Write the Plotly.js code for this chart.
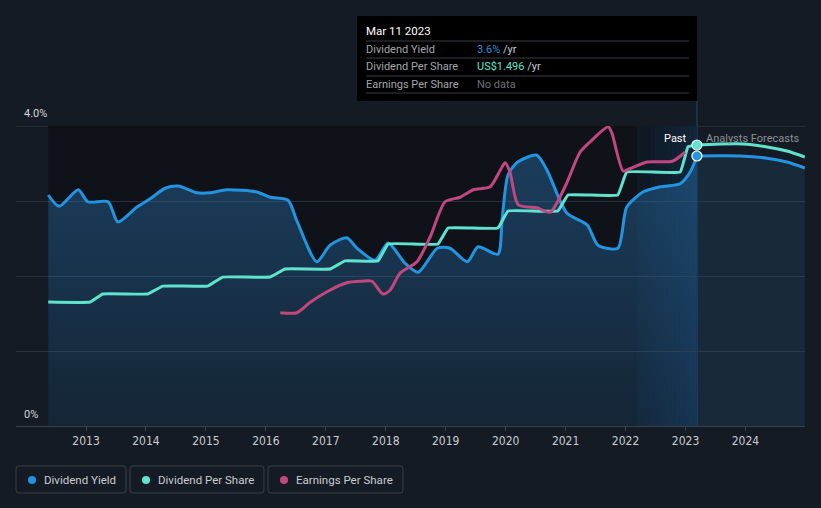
<!DOCTYPE html>
<html><head><meta charset="utf-8">
<script src="https://cdn.plot.ly/plotly-3.0.1.min.js"></script>
<style>html,body{margin:0;padding:0;background:#151b24;}#chart{width:821px;height:508px;}</style>
</head><body><div id="chart"></div>
<script>
// ---- data (decimal years) ----
const tickYears = [2013, 2014, 2015, 2016, 2017, 2018, 2019, 2020, 2021, 2022, 2023, 2024];

const yieldX = [2012.37, 2012.55, 2012.87, 2013.03, 2013.37, 2013.53, 2013.85, 2014.07, 2014.32, 2014.54, 2014.85, 2015.07, 2015.35, 2015.85, 2016.07, 2016.37, 2016.52, 2016.85, 2017.07, 2017.35, 2017.52, 2017.82, 2018.04, 2018.32, 2018.54, 2018.86, 2019.07, 2019.36, 2019.54, 2019.87, 2019.94, 2020.04, 2020.20, 2020.52, 2020.69, 2021.02, 2021.36, 2021.54, 2021.87, 2022.02, 2022.29, 2022.58, 2022.91, 2023.08, 2023.19];
const yieldPct = [3.08, 2.93, 3.15, 2.99, 2.99, 2.72, 2.92, 3.03, 3.17, 3.20, 3.11, 3.11, 3.15, 3.12, 3.05, 3.01, 2.73, 2.19, 2.41, 2.51, 2.37, 2.21, 2.44, 2.17, 2.05, 2.37, 2.37, 2.19, 2.39, 2.29, 2.75, 3.35, 3.52, 3.61, 3.41, 2.84, 2.68, 2.41, 2.37, 2.92, 3.12, 3.19, 3.23, 3.39, 3.60];
const yieldFcX = [2023.19, 2023.91, 2024.36, 2024.69, 2024.99];
const yieldFc = [3.60, 3.60, 3.57, 3.52, 3.44];

const dpsX = [2012.37, 2013.07, 2013.28, 2014.03, 2014.28, 2015.03, 2015.28, 2016.07, 2016.32, 2017.07, 2017.32, 2017.87, 2018.04, 2018.87, 2019.04, 2019.87, 2020.04, 2020.87, 2021.04, 2021.87, 2022.02, 2022.91, 2023.04, 2023.19];
const dpsUsd = [0.660, 0.660, 0.703, 0.703, 0.745, 0.745, 0.793, 0.793, 0.836, 0.836, 0.879, 0.879, 0.969, 0.969, 1.054, 1.054, 1.145, 1.145, 1.230, 1.230, 1.352, 1.352, 1.486, 1.496];
const dpsFcX = [2023.19, 2023.96, 2024.36, 2024.69, 2024.99];
const dpsFc = [1.496, 1.502, 1.486, 1.464, 1.432];

const epsX = [2016.24, 2016.52, 2016.74, 2017.02, 2017.35, 2017.60, 2017.77, 2017.95, 2018.07, 2018.24, 2018.52, 2018.74, 2018.99, 2019.24, 2019.46, 2019.74, 2019.91, 2019.99, 2020.07, 2020.21, 2020.52, 2020.74, 2020.99, 2021.24, 2021.41, 2021.71, 2021.77, 2021.96, 2022.07, 2022.36, 2022.78, 2022.99];
const epsUsd = [1.51, 1.51, 1.65, 1.79, 1.91, 1.93, 1.93, 1.76, 1.81, 2.04, 2.19, 2.52, 2.99, 3.05, 3.15, 3.19, 3.41, 3.51, 3.39, 2.95, 2.91, 2.85, 3.19, 3.65, 3.79, 3.99, 3.91, 3.40, 3.43, 3.52, 3.53, 3.65];

const seriesNames = ['Dividend Yield', 'Dividend Per Share', 'Earnings Per Share'];
const tooltipDate = 'Mar 11 2023';

// ---- styling ----
const C_YIELD = '#2394df', C_DPS = '#5fe3cf', C_EPS = '#c2477f';
const BG = '#151b24', DARK = '#0f1319';
const FONT = 'Roboto, "Open Sans", sans-serif';
const XR = [2011.832, 2024.993];
const W = 821, H = 508, ML = 16, MR = 16, MT = 126, MB = 82;
const PW = W - ML - MR, PH = H - MT - MB;
const px = p => (p - ML) / PW;          // pixel x -> paper
const py = p => (H - MB - p) / PH;      // pixel y -> paper
const dx = t => (t - XR[0]) / (XR[1] - XR[0]);

const nowX = yieldX[yieldX.length - 1];
const lastYield = yieldPct[yieldPct.length - 1];
const lastDps = dpsUsd[dpsUsd.length - 1];

const traces = [
  {x: yieldFcX, y: yieldFc, type: 'scatter', mode: 'lines', line: {color: C_YIELD, width: 3, shape: 'spline', smoothing: 0.8},
   fill: 'tozeroy', fillcolor: 'rgba(40,110,170,0.17)', cliponaxis: false},
  {x: yieldX, y: yieldPct, type: 'scatter', mode: 'lines', line: {color: C_YIELD, width: 3, shape: 'spline', smoothing: 0.7},
   fill: 'tozeroy', fillgradient: {type: 'vertical', start: 0, stop: 3.6,
     colorscale: [[0, 'rgba(40,110,170,0.20)'], [1, 'rgba(40,110,170,0.46)']]}, cliponaxis: false},
  {x: epsX, y: epsUsd, yaxis: 'y3', type: 'scatter', mode: 'lines', line: {color: C_EPS, width: 3, shape: 'spline', smoothing: 0.7}, cliponaxis: false},
  {x: dpsFcX, y: dpsFc, yaxis: 'y2', type: 'scatter', mode: 'lines', line: {color: C_DPS, width: 3, shape: 'spline', smoothing: 0.8}, cliponaxis: false},
  {x: dpsX, y: dpsUsd, yaxis: 'y2', type: 'scatter', mode: 'lines', line: {color: C_DPS, width: 3, shape: 'spline', smoothing: 0.25}, cliponaxis: false},
  {x: [nowX], y: [lastDps], yaxis: 'y2', type: 'scatter', mode: 'markers', marker: {color: C_DPS, size: 10, line: {color: '#e8f4f4', width: 1.2}}, cliponaxis: false},
  {x: [nowX], y: [lastYield], type: 'scatter', mode: 'markers', marker: {color: C_YIELD, size: 10, line: {color: '#ffffff', width: 1.2}}, cliponaxis: false}
];

const shapes = [];
// dark "past" region
shapes.push({type: 'rect', xref: 'x', yref: 'y', x0: yieldX[0], x1: nowX, y0: 0, y1: 4, fillcolor: DARK, line: {width: 0}, layer: 'below'});
// highlight band before the current date
const bandStart = 2022.19, N = 14;
for (let i = 0; i < N; i++) {
  const a = bandStart + (nowX - bandStart) * i / N, b = bandStart + (nowX - bandStart) * (i + 1) / N;
  shapes.push({type: 'rect', xref: 'x', yref: 'y', x0: a, x1: b, y0: 0, y1: 4,
    fillcolor: `rgba(30,120,200,${(0.04 + 0.16 * (i + 1) / N).toFixed(3)})`, line: {width: 0}, layer: 'below'});
}
// top gridline (4.0%)
shapes.push({type: 'line', xref: 'paper', yref: 'y', x0: 0, x1: 1, y0: 4, y1: 4, line: {color: '#3a404a', width: 1}, layer: 'between'});
// current-date vertical line
shapes.push({type: 'line', xref: 'paper', yref: 'paper', x0: dx(nowX), x1: dx(nowX), y0: 0, y1: py(101), line: {color: '#1d3a56', width: 1.5}, layer: 'below'});
// tooltip box
shapes.push({type: 'rect', xref: 'paper', yref: 'paper', x0: px(357), x1: dx(nowX), y0: py(16), y1: py(101), fillcolor: '#000000', line: {width: 0}, layer: 'above'});
[41, 58, 76, 93].forEach(yy => shapes.push({type: 'line', xref: 'paper', yref: 'paper', x0: px(366), x1: px(689), y0: py(yy), y1: py(yy), line: {color: '#3a3d42', width: 1}, layer: 'above'}));

// legend boxes
function rr(x0, y0, x1, y1, r) {
  const X = v => px(v).toFixed(5), Y = v => py(v).toFixed(5);
  return `M${X(x0 + r)},${Y(y0)} L${X(x1 - r)},${Y(y0)} Q${X(x1)},${Y(y0)} ${X(x1)},${Y(y0 + r)} L${X(x1)},${Y(y1 - r)} Q${X(x1)},${Y(y1)} ${X(x1 - r)},${Y(y1)} L${X(x0 + r)},${Y(y1)} Q${X(x0)},${Y(y1)} ${X(x0)},${Y(y1 - r)} L${X(x0)},${Y(y0 + r)} Q${X(x0)},${Y(y0)} ${X(x0 + r)},${Y(y0)} Z`;
}
const legBoxes = [[16, 126], [130, 264], [268, 403]];
const legColors = [C_YIELD, C_DPS, C_EPS];
const annotations = [];
legBoxes.forEach((b, i) => {
  shapes.push({type: 'path', xref: 'paper', yref: 'paper', path: rr(b[0], 466, b[1], 493, 3), fillcolor: 'rgba(0,0,0,0)', line: {color: '#3b414b', width: 1}});
  shapes.push({type: 'circle', xref: 'paper', yref: 'paper', x0: px(b[0] + 12), x1: px(b[0] + 20), y0: py(476), y1: py(484), fillcolor: legColors[i], line: {width: 0}});
  annotations.push({xref: 'paper', yref: 'paper', x: px(b[0] + 26), y: py(480), xanchor: 'left', yanchor: 'middle', showarrow: false,
    text: seriesNames[i], font: {family: FONT, size: 11.5, color: '#c9ccd2'}});
});

// y labels
annotations.push({xref: 'paper', yref: 'paper', x: px(22), y: py(114), xanchor: 'left', yanchor: 'middle', showarrow: false, text: '4.0%', font: {family: FONT, size: 11, color: '#d2d5da'}});
annotations.push({xref: 'paper', yref: 'paper', x: px(22), y: py(414), xanchor: 'left', yanchor: 'middle', showarrow: false, text: '0%', font: {family: FONT, size: 11, color: '#d2d5da'}});
// Past / forecasts
annotations.push({xref: 'x', yref: 'paper', x: nowX, y: py(138), xanchor: 'right', yanchor: 'middle', xshift: -8, showarrow: false, text: 'Past', font: {family: FONT, size: 11, color: '#ffffff'}});
annotations.push({xref: 'x', yref: 'paper', x: nowX, y: py(138), xanchor: 'left', yanchor: 'middle', xshift: 7, showarrow: false, text: 'Analysts Forecasts', font: {family: FONT, size: 11, color: '#8c9098'}});
// tooltip text
const tt = (x, y, text, color, size) => annotations.push({xref: 'paper', yref: 'paper', x: px(x), y: py(y), xanchor: 'left', yanchor: 'middle', showarrow: false, text, font: {family: FONT, size: size || 11, color}});
tt(364, 31, tooltipDate, '#ffffff', 11.5);
tt(364, 49.5, seriesNames[0], '#a3a7ad');
tt(364, 67, seriesNames[1], '#a3a7ad');
tt(364, 84.5, seriesNames[2], '#a3a7ad');
tt(475, 49.5, `<span style="color:${C_YIELD}">${lastYield.toFixed(1)}%</span> /yr`, '#c9ccd2');
tt(475, 67, `<span style="color:${C_DPS}">US$${lastDps.toFixed(3)}</span> /yr`, '#c9ccd2');
tt(475, 84.5, 'No data', '#6d7178');

const layout = {
  width: W, height: H, margin: {l: ML, r: MR, t: MT, b: MB},
  paper_bgcolor: BG, plot_bgcolor: 'rgba(0,0,0,0)', showlegend: false, hovermode: false,
  xaxis: {range: XR, tickvals: tickYears, ticktext: tickYears.map(String), ticks: 'outside', ticklen: 4, tickcolor: '#3a414b',
    showgrid: false, zeroline: false, showline: true, linecolor: '#3a414b', linewidth: 1,
    tickfont: {family: '"Liberation Sans Narrow", "DejaVu Sans Condensed", Roboto, sans-serif', size: 12, color: '#c9ccd1'}},
  yaxis: {range: [0, 4], tickvals: [0, 1, 2, 3, 4], showticklabels: false, showgrid: true, gridcolor: '#2a303a', gridwidth: 1, zeroline: false, ticks: ''},
  yaxis2: {range: [0, 1.5974], overlaying: 'y', visible: false},
  yaxis3: {range: [0, 4], overlaying: 'y', visible: false},
  shapes, annotations
};
Plotly.newPlot('chart', traces, layout, {staticPlot: true, displayModeBar: false});
</script>
</body></html>
